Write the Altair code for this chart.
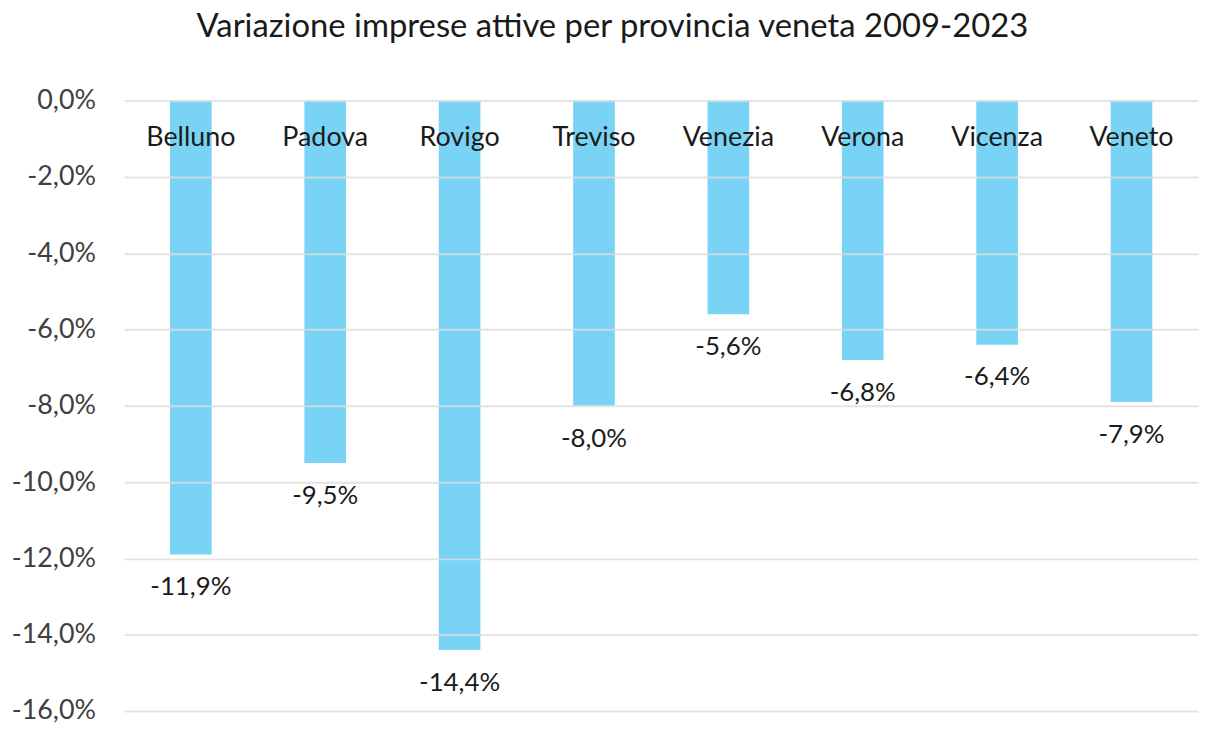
import altair as alt
import pandas as pd

province = ["Belluno", "Padova", "Rovigo", "Treviso", "Venezia", "Verona", "Vicenza", "Veneto"]
variazione = [-0.119, -0.095, -0.144, -0.080, -0.056, -0.068, -0.064, -0.079]
etichette = ["-11,9%", "-9,5%", "-14,4%", "-8,0%", "-5,6%", "-6,8%", "-6,4%", "-7,9%"]

df = pd.DataFrame({"provincia": province, "valore": variazione, "etichetta": etichette, "zero": [0.0] * len(province)})

FONT = "Lato"

x = alt.X("provincia:N", sort=province,
          scale=alt.Scale(paddingInner=0.69, paddingOuter=0.34),
          axis=None)
y_scale = alt.Scale(domain=[-0.16, 0], nice=False, zero=True)

base = alt.Chart(df)

bars = base.mark_bar(color="#79D3F5").encode(
    x=x,
    y=alt.Y("valore:Q", scale=y_scale, title=None,
            axis=alt.Axis(values=[0, -0.02, -0.04, -0.06, -0.08, -0.1, -0.12, -0.14, -0.16],
                          labelExpr="replace(replace(format(datum.value, '.1%'), '.', ','), '\u2212', '-')",
                          domain=False, ticks=False, labelPadding=29,
                          labelFontSize=27, labelColor="#404040", labelFont=FONT,
                          gridColor="#DDDDDD", gridWidth=2, gridOpacity=0.8, zindex=1)),
    y2=alt.Y2("zero:Q"),
)

cat_text = base.mark_text(fontSize=27, font=FONT, color="#1a1a1a", baseline="middle", dy=38).encode(
    x=x,
    y=alt.Y("zero:Q", scale=y_scale),
    text="provincia:N",
)

val_text = base.mark_text(fontSize=26, font=FONT, color="#1a1a1a", baseline="middle", dy=33).encode(
    x=x,
    y=alt.Y("valore:Q", scale=y_scale),
    text="etichetta:N",
)

chart = alt.layer(bars, cat_text, val_text).properties(
    width=1080, height=614,
    title=alt.TitleParams("Variazione imprese attive per provincia veneta 2009-2023",
                          fontSize=33, font=FONT, fontWeight="normal", color="#1a1a1a",
                          anchor="middle", dx=-49, offset=43),
    autosize=alt.AutoSizeParams(type="none"),
    padding={"left": 117, "top": 91, "right": 2, "bottom": 15},
).configure_view(stroke=None)

chart.save("out.html", embed_options={"renderer": "svg", "actions": False})
